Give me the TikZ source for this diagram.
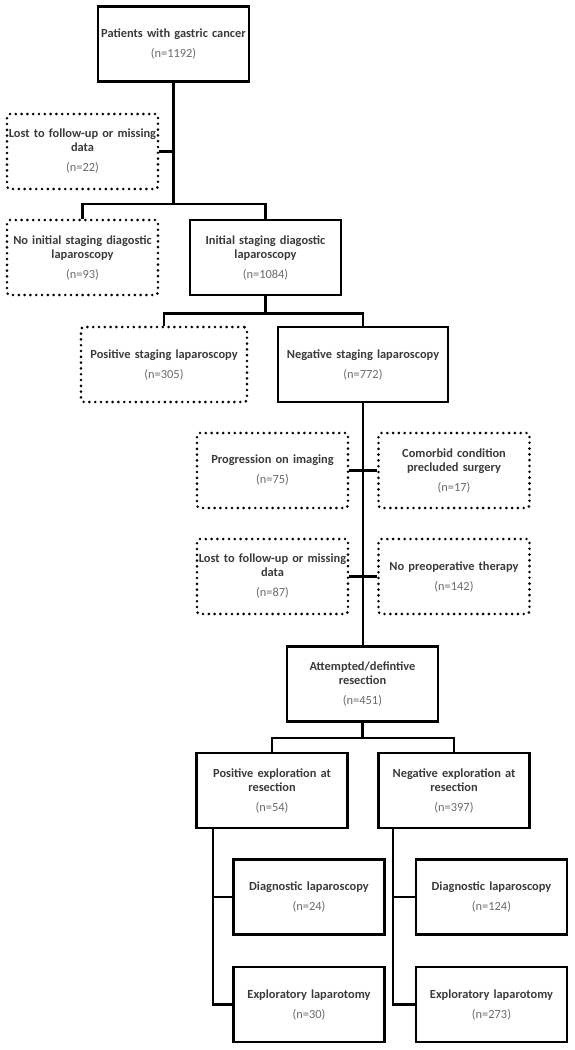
\documentclass[tikz,border=0pt]{standalone}
\usepackage{fontspec}
\setmainfont{Carlito}
\usepackage{xcolor}
\definecolor{txt}{HTML}{3a3a3a}
\definecolor{ngray}{HTML}{6a6a6a}
\newcommand{\nbox}[2]{{\bfseries #1\par}\vspace{6pt}{\color{ngray}(n=#2)}}

\begin{document}
\begin{tikzpicture}[x=1pt, y=-1pt,
    box/.style={draw, line width=2.6pt, minimum width=151pt, minimum height=75pt,
      inner sep=0pt, text width=150pt, align=center, font=\fontsize{12.4}{14}\selectfont, text=txt},
    dotbox/.style={box, line width=2.9pt, line cap=round, dash pattern=on 0pt off 5.8pt,
      rounded corners=3pt},
    link/.style={line width=2.6pt}]
      \useasboundingbox (0,0) rectangle (575,1050);
      % Boxes
      \node[box] (pat) at (173.5,44) {\nbox{Patients with gastric cancer}{1192}};
      \node[dotbox] (lost1) at (82.5,151.5) {\nbox{Lost to follow-up or missing\\data}{22}};
      \node[dotbox] (noinit) at (82.5,257.5) {\nbox{No initial staging diagostic\\laparoscopy}{93}};
      \node[box] (init) at (265.5,257.5) {\nbox{Initial staging diagostic\\laparoscopy}{1084}};
      \node[dotbox, minimum width=166pt, text width=165pt] (posstag) at (164,364.5) {\nbox{Positive staging laparoscopy}{305}};
      \node[box, minimum width=170pt, text width=169pt] (negstag) at (363,364.5) {\nbox{Negative staging laparoscopy}{772}};
      \node[dotbox] (prog) at (272.5,470.5) {\nbox{Progression on imaging}{75}};
      \node[dotbox] (comorb) at (454,470.5) {\nbox{Comorbid condition\\precluded surgery}{17}};
      \node[dotbox] (lost2) at (272.5,576.5) {\nbox{Lost to follow-up or missing\\data}{87}};
      \node[dotbox] (nopreop) at (454,576.5) {\nbox{No preoperative therapy}{142}};
      \node[box] (attempt) at (362.5,684) {\nbox{Attempted/defintive\\resection}{451}};
      \node[box] (posexp) at (272,790.5) {\nbox{Positive exploration at\\resection}{54}};
      \node[box] (negexp) at (454,790.5) {\nbox{Negative exploration at\\resection}{397}};
      \node[box] (diag1) at (309,897) {\nbox{Diagnostic laparoscopy}{24}};
      \node[box] (expl1) at (309,1004.5) {\nbox{Exploratory laparotomy}{30}};
      \node[box] (diag2) at (491.5,897) {\nbox{Diagnostic laparoscopy}{124}};
      \node[box] (expl2) at (491.5,1004.5) {\nbox{Exploratory laparotomy}{273}};
      % Junctions
      \coordinate (j1) at (173.5,204);
      \coordinate (s1) at (213,828);
      \coordinate (s2) at (393,828);
      % Connectors
      \draw[link] (pat.south) -- (j1);
      \draw[link] (lost1.east) -- (lost1.east -| j1);
      \draw[link] (noinit.north) |- (j1) -| (init.north);
      \draw[link] (init.south) -- ++(0,17) coordinate (j2);
      \draw[link] (posstag.north) |- (j2) -| (negstag.north);
      \draw[link] (negstag.south) -- (negstag.south |- attempt.north);
      \draw[link] (prog.east) -- (comorb.west);
      \draw[link] (lost2.east) -- (nopreop.west);
      \draw[link] (attempt.south) -- ++(0,15) coordinate (j3);
      \draw[link] (posexp.north) |- (j3) -| (negexp.north);
      \draw[link] (s1) |- (expl1.west);
      \draw[link] (diag1.west) -- (diag1.west -| s1);
      \draw[link] (s2) |- (expl2.west);
      \draw[link] (diag2.west) -- (diag2.west -| s2);
    \end{tikzpicture}
\end{document}
